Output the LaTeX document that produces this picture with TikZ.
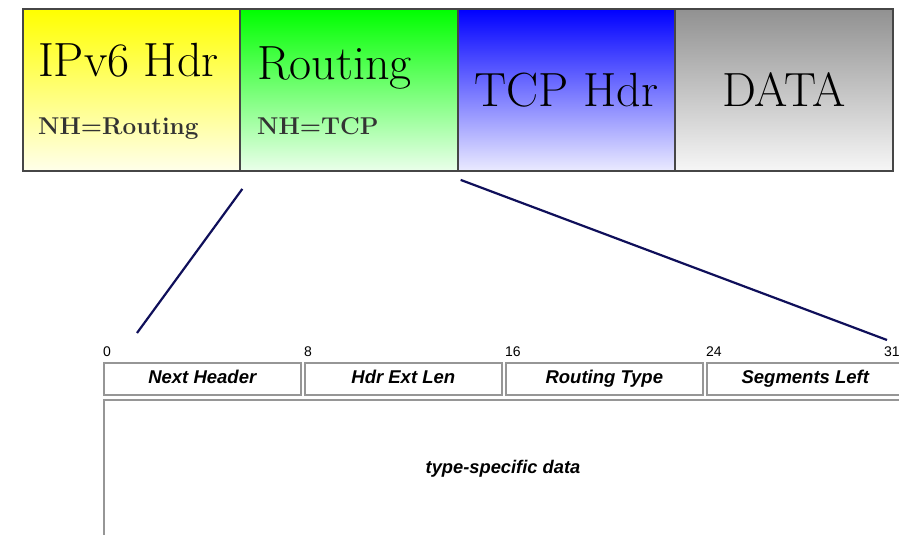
\documentclass[tikz,border=0pt]{standalone}
\usepackage{fontspec}
\newfontfamily\arialfont{Liberation Sans}
\usetikzlibrary{positioning,calc}
\definecolor{navy}{RGB}{15,15,90}
\definecolor{frame}{RGB}{70,70,70}
\definecolor{grid}{RGB}{150,150,150}
\definecolor{slate}{RGB}{145,145,145}
\tikzset{
  seg/.style={draw=frame,line width=1.8pt,top color=#1,bottom color=#1!8,
    minimum width=217.5pt,minimum height=162pt,inner sep=0pt},
  seg/.default=slate,
  big/.style={font=\fontsize{48}{54}\selectfont,inner sep=0pt},
  nh/.style={font=\fontsize{24.3}{28}\selectfont\bfseries,text=black!80,inner sep=0pt},
  field/.style={draw=grid,line width=1.6pt,minimum width=197pt,minimum height=32pt,
    inner sep=0pt,text height=13.5pt,text depth=4pt,
    font=\arialfont\fontsize{18.5}{21}\selectfont\bfseries\itshape},
  bit/.style={font=\arialfont\fontsize{14}{16}\selectfont,inner sep=0pt},
  zoomline/.style={draw=navy,line width=2.2pt},
}

\begin{document}
\begin{tikzpicture}[x=1pt,y=-1pt]
  \useasboundingbox (0,0) rectangle (899,535);
  \clip (0,0) rectangle (899,535);
  % packet
  \node[seg=yellow] (ip) at (131.5,90) {};
  \node[seg=green] (rh) at (349,90) {};
  \node[seg=blue,big] (tcp) at (566.5,90) {TCP Hdr};
  \node[seg=slate,big] (data) at (784,90) {DATA};
  \node[big,anchor=base west] (iplbl) at (38,77) {IPv6 Hdr};
  \node[nh,anchor=base west] (ipnh) at (38,134) {NH=Routing};
  \node[big,anchor=base west] (rhlbl) at (257,79) {Routing};
  \node[nh,anchor=base west] (rhnh) at (257,134) {NH=TCP};
  % routing header layout
  \foreach \n/\x/\t in {next/103/Next Header,len/304/Hdr Ext Len,type/505/Routing Type,left/706/Segments Left}
    \node[field,anchor=north west] (\n) at (\x,362) {\t};
  \foreach \n/\b in {next/0,len/8,type/16,left/24}
    \node[bit,anchor=south west] (b\b) at ($(\n.north west)+(0,-5)$) {\b};
  \node[bit,anchor=south west] (b31) at (884,357) {31};
  \node[field,anchor=north west,minimum width=810pt,minimum height=150pt] (spec) at (103,399) {};
  \node[font=\arialfont\fontsize{18.3}{21}\selectfont\bfseries\itshape] (spectxt) at (503,469) {type-specific data};
  % zoom lines
  \coordinate (za) at ($(rh.south west)+(3,17)$);
  \coordinate (zb) at ($(rh.south east)+(2,8)$);
  \coordinate (zc) at (137,333);
  \coordinate (zd) at (887,340);
  \draw[zoomline] (za) -- (zc);
  \draw[zoomline] (zb) -- (zd);
\end{tikzpicture}
\end{document}
